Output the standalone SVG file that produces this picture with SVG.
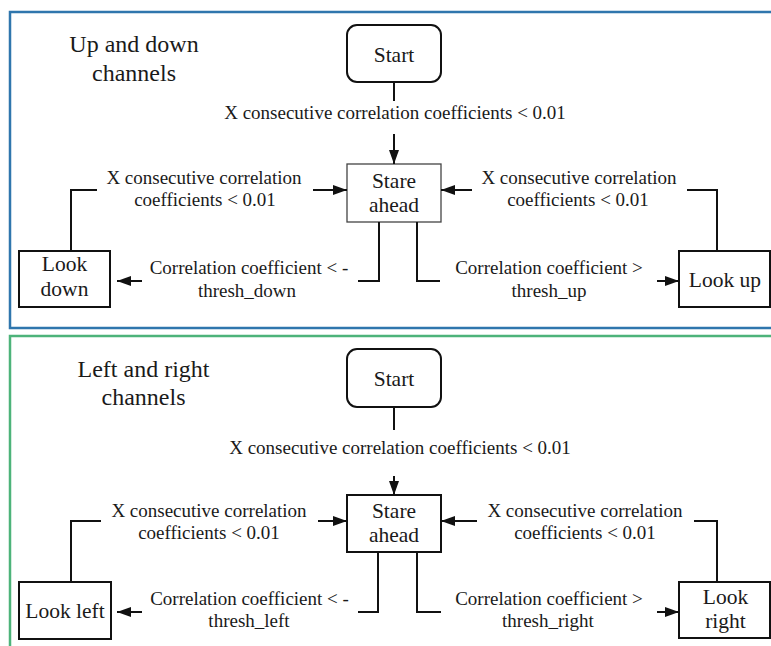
<svg xmlns="http://www.w3.org/2000/svg" width="771" height="646" viewBox="0 0 771 646" font-family="'Liberation Serif', 'DejaVu Serif', serif">
<style>
  text { font-family: 'Liberation Serif', 'DejaVu Serif', serif; fill: #1a1a1a; text-anchor: middle; }
  .title { font-size: 24px; }
  .node { font-size: 21.5px; }
  .lbl { font-size: 19px; }
  .box { fill: #ffffff; stroke: #111; stroke-width: 2; }
  .thin { fill: #ffffff; stroke: #444; stroke-width: 1.3; }
  .conn path { fill: none; stroke: #111; stroke-width: 2; }
  .arr { marker-end: url(#ah); }
</style>
<defs>
  <marker id="ah" markerUnits="userSpaceOnUse" markerWidth="15" markerHeight="11" refX="14" refY="5" orient="auto">
    <path d="M0,0 L14,5 L0,10 z" fill="#111"/>
  </marker>
</defs>
<rect x="0" y="0" width="771" height="646" fill="#ffffff"/>

<!-- Top panel -->
<rect id="panel-updown" x="10" y="12" width="800" height="316" fill="none" stroke="#2f76ad" stroke-width="2.5"/>
<g id="title-updown">
  <text class="title" x="134" y="52">Up and down</text>
  <text class="title" x="134" y="81">channels</text>
</g>
<g id="start1">
  <rect class="box" x="347" y="25" width="94" height="57" rx="10"/>
  <text class="node" x="394" y="62">Start</text>
</g>
<g id="stare1">
  <rect class="thin" x="347" y="164" width="94" height="58"/>
  <text class="node" x="394" y="188">Stare</text>
  <text class="node" x="394" y="212">ahead</text>
</g>
<g id="lookdown">
  <rect class="box" x="19" y="251" width="91" height="56"/>
  <text class="node" x="64.5" y="271">Look</text>
  <text class="node" x="64.5" y="296">down</text>
</g>
<g id="lookup">
  <rect class="box" x="679" y="251" width="91" height="56"/>
  <text class="node" x="725" y="287">Look up</text>
</g>
<g id="connectors-top" class="conn">
  <path d="M394,82 V101"/>
  <path class="arr" d="M394,134 V164"/>
  <path d="M71,251 V190 H97"/>
  <path class="arr" d="M313,190 H347"/>
  <path d="M717,251 V190 H687"/>
  <path class="arr" d="M472,190 H441"/>
  <path d="M379,222 V281 H358"/>
  <path class="arr" d="M142,281 H117"/>
  <path d="M417,222 V281 H440"/>
  <path class="arr" d="M657,281 H679"/>
</g>
<g id="labels-top">
  <text class="lbl" x="395" y="119">X consecutive correlation coefficients &lt; 0.01</text>
  <text class="lbl" x="204" y="184">X consecutive correlation</text>
  <text class="lbl" x="205" y="206">coefficients &lt; 0.01</text>
  <text class="lbl" x="579" y="184">X consecutive correlation</text>
  <text class="lbl" x="578" y="206">coefficients &lt; 0.01</text>
  <text class="lbl" x="249" y="274">Correlation coefficient &lt; -</text>
  <text class="lbl" x="247" y="297">thresh_down</text>
  <text class="lbl" x="549" y="274">Correlation coefficient &gt;</text>
  <text class="lbl" x="549" y="297">thresh_up</text>
</g>

<!-- Bottom panel -->
<rect id="panel-leftright" x="10" y="336" width="800" height="400" fill="none" stroke="#4db37a" stroke-width="2.5"/>
<g id="title-leftright">
  <text class="title" x="143.5" y="377">Left and right</text>
  <text class="title" x="143.5" y="405">channels</text>
</g>
<g id="start2">
  <rect class="box" x="347" y="349" width="94" height="58" rx="10"/>
  <text class="node" x="394" y="386">Start</text>
</g>
<g id="stare2">
  <rect class="box" x="347" y="495" width="94" height="57"/>
  <text class="node" x="394" y="518">Stare</text>
  <text class="node" x="394" y="542">ahead</text>
</g>
<g id="lookleft">
  <rect class="box" x="19" y="582" width="92" height="57"/>
  <text class="node" x="65" y="618">Look left</text>
</g>
<g id="lookright">
  <rect class="box" x="679" y="582" width="91" height="56"/>
  <text class="node" x="725.5" y="604">Look</text>
  <text class="node" x="725.5" y="628">right</text>
</g>
<g id="connectors-bottom" class="conn">
  <path d="M394,407 V430"/>
  <path class="arr" d="M394,476 V495"/>
  <path d="M71,582 V521 H101"/>
  <path class="arr" d="M318,521 H347"/>
  <path d="M717,582 V521 H694"/>
  <path class="arr" d="M477,521 H441"/>
  <path d="M378,552 V612 H358"/>
  <path class="arr" d="M142,612 H117"/>
  <path d="M417,552 V612 H441"/>
  <path class="arr" d="M657,612 H679"/>
</g>
<g id="labels-bottom">
  <text class="lbl" x="400" y="454">X consecutive correlation coefficients &lt; 0.01</text>
  <text class="lbl" x="209" y="517">X consecutive correlation</text>
  <text class="lbl" x="209" y="539">coefficients &lt; 0.01</text>
  <text class="lbl" x="585" y="517">X consecutive correlation</text>
  <text class="lbl" x="585" y="539">coefficients &lt; 0.01</text>
  <text class="lbl" x="249.5" y="605">Correlation coefficient &lt; -</text>
  <text class="lbl" x="249" y="627">thresh_left</text>
  <text class="lbl" x="549" y="605">Correlation coefficient &gt;</text>
  <text class="lbl" x="548" y="627">thresh_right</text>
</g>
</svg>
